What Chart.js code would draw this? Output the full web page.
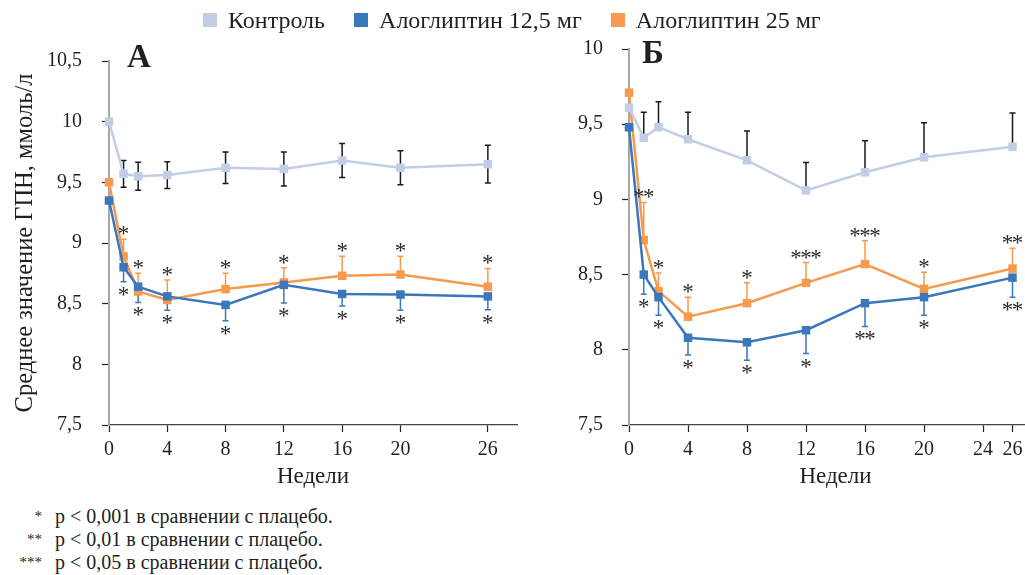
<!DOCTYPE html>
<html lang="ru">
<head>
<meta charset="utf-8">
<title>Алоглиптин: среднее значение ГПН</title>
<script src="https://cdn.jsdelivr.net/npm/chart.js@4.4.1/dist/chart.umd.min.js"></script>
<style>
  html, body { margin: 0; padding: 0; background: #fff; overflow: hidden; }
  body { width: 1025px; height: 575px; position: relative; font-family: "Liberation Serif", "Times New Roman", serif; color: #231f20; }
  .panel { position: absolute; top: 0; }
  #legend { position: absolute; top: 7px; left: 203px; height: 26px; display: flex; align-items: center; font-size: 24px; z-index: 2; white-space: nowrap; }
  #legend .sw { display: inline-block; width: 14px; height: 14px; margin-right: 11px; }
  #legend .item { display: flex; align-items: center; margin-right: 29px; }
  .letter { position: absolute; font-weight: bold; font-size: 33px; z-index: 2; line-height: 1; }
  #notes { position: absolute; left: 0; top: 505px; font-size: 20px; line-height: 23px; }
  #notes .row { display: flex; }
  #notes .mk { width: 42px; text-align: right; padding-right: 13px; font-size: 15px; }
</style>
</head>
<body>
<div id="legend"></div>
<div class="letter" style="left:127px; top:40px;">А</div>
<div class="letter" style="left:642px; top:36px;">Б</div>
<canvas id="chartA" class="panel" style="left:0px" width="525" height="500"></canvas>
<canvas id="chartB" class="panel" style="left:530px" width="520" height="500"></canvas>
<div id="notes"></div>

<script>
// ---- series names and colours ----
const seriesNames = ['Контроль', 'Алоглиптин 12,5 мг', 'Алоглиптин 25 мг'];
const seriesColors = ['#c3cde6', '#3a77bb', '#f79a4d'];

// ---- panel A: weeks, means (mmol/l) and SE ----
const weeksA = [0, 1, 2, 4, 8, 12, 16, 20, 26];
const tickWeeksA = [0, 4, 8, 12, 16, 20, 26];
const controlA = [10.0, 9.57, 9.55, 9.56, 9.62, 9.61, 9.68, 9.62, 9.65];
const controlErrA = [null, 0.11, 0.115, 0.11, 0.13, 0.14, 0.14, 0.14, 0.155];
const alo125A = [9.35, 8.80, 8.64, 8.56, 8.49, 8.655, 8.58, 8.575, 8.56];
const alo125ErrA = [null, 0.12, 0.13, 0.115, 0.13, 0.15, 0.10, 0.13, 0.11];
const alo25A = [9.50, 8.89, 8.60, 8.53, 8.62, 8.675, 8.73, 8.74, 8.64];
const alo25ErrA = [null, 0.14, 0.15, 0.165, 0.13, 0.12, 0.16, 0.15, 0.15];
const sig25A = ['', '*', '*', '*', '*', '*', '*', '*', '*'];
const sig125A = ['', '*', '*', '*', '*', '*', '*', '*', '*'];

// ---- panel Б ----
const weeksB = [0, 1, 2, 4, 8, 12, 16, 20, 26];
const tickWeeksB = [0, 4, 8, 12, 16, 20, 24, 26];
const controlB = [9.61, 9.41, 9.48, 9.40, 9.26, 9.06, 9.18, 9.28, 9.35];
const controlErrB = [null, 0.17, 0.17, 0.18, 0.195, 0.185, 0.21, 0.23, 0.225];
const alo125B = [9.48, 8.50, 8.35, 8.08, 8.05, 8.13, 8.31, 8.35, 8.48];
const alo125ErrB = [null, 0.13, 0.12, 0.115, 0.12, 0.155, 0.155, 0.12, 0.13];
const alo25B = [9.71, 8.73, 8.39, 8.22, 8.31, 8.445, 8.57, 8.405, 8.54];
const alo25ErrB = [null, 0.25, 0.12, 0.13, 0.135, 0.135, 0.155, 0.11, 0.135];
const sig25B = ['', '**', '*', '*', '*', '***', '***', '*', '**'];
const sig125B = ['', '*', '*', '*', '*', '*', '**', '*', '**'];

// ---- footnotes ----
const noteMarks = ['*', '**', '***'];
const noteTexts = ['p < 0,001 в сравнении с плацебо.', 'p < 0,01 в сравнении с плацебо.', 'p < 0,05 в сравнении с плацебо.'];

const TEXT = '#231f20';
const SERIF = '"Liberation Serif", "Times New Roman", serif';

// legend
const legendEl = document.getElementById('legend');
seriesNames.forEach((name, i) => {
  const item = document.createElement('span');
  item.className = 'item';
  const sw = document.createElement('span');
  sw.className = 'sw';
  sw.style.background = seriesColors[i];
  item.appendChild(sw);
  item.appendChild(document.createTextNode(name));
  legendEl.appendChild(item);
});

// footnotes
const notesEl = document.getElementById('notes');
noteTexts.forEach((t, i) => {
  const row = document.createElement('div');
  row.className = 'row';
  const mk = document.createElement('span');
  mk.className = 'mk';
  mk.textContent = noteMarks[i];
  const tx = document.createElement('span');
  tx.textContent = t;
  row.appendChild(mk);
  row.appendChild(tx);
  notesEl.appendChild(row);
});

const toPoints = (xs, ys) => xs.map((x, i) => ({ x, y: ys[i] }));

// Vertical error bars (dir = 'both' | 'up' | 'down') and significance stars
const errorBarPlugin = {
  id: 'errorBars',
  beforeDatasetsDraw(chart, args, opts) {
    const { ctx } = chart;
    const xs = chart.scales.x, ys = chart.scales.y;
    (opts.bars || []).forEach(b => {
      ctx.save();
      ctx.strokeStyle = b.color;
      ctx.lineWidth = b.width || 1.5;
      b.values.forEach((v, j) => {
        const e = b.errors[j];
        if (e == null) return;
        const px = xs.getPixelForValue(b.weeks[j]);
        const ends = [];
        if (b.dir !== 'down') ends.push(v + e);
        if (b.dir !== 'up') ends.push(v - e);
        ends.forEach(end => {
          const p0 = ys.getPixelForValue(v);
          const p1 = ys.getPixelForValue(end);
          ctx.beginPath();
          ctx.moveTo(px, p0);
          ctx.lineTo(px, p1);
          ctx.moveTo(px - 3, p1);
          ctx.lineTo(px + 3, p1);
          ctx.stroke();
        });
      });
      ctx.restore();
    });
  },
  afterDatasetsDraw(chart, args, opts) {
    const { ctx } = chart;
    const xs = chart.scales.x, ys = chart.scales.y;
    ctx.save();
    ctx.fillStyle = '#2a2a2a';
    ctx.font = '23px ' + SERIF;
    ctx.textAlign = 'center';
    ctx.textBaseline = 'alphabetic';
    (opts.marks || []).forEach(m => {
      m.labels.forEach((lab, j) => {
        if (!lab) return;
        const e = m.errors[j] || 0;
        const end = m.dir === 'up' ? m.values[j] + e : m.values[j] - e;
        const cy = ys.getPixelForValue(end) + (m.dir === 'up' ? -9 : 9);
        const cx = xs.getPixelForValue(m.weeks[j]);
        const n = lab.length;
        for (let k = 0; k < n; k++) {
          const sx = cx + (k - (n - 1) / 2) * 10;
          ctx.fillText('*', sx, cy + 11);
        }
      });
    });
    ctx.restore();
  }
};

function makeChart(id, cfg) {
  const datasets = [
    { label: seriesNames[0], data: toPoints(cfg.weeks, cfg.control), color: seriesColors[0] },
    { label: seriesNames[1], data: toPoints(cfg.weeks, cfg.alo125), color: seriesColors[1] },
    { label: seriesNames[2], data: toPoints(cfg.weeks, cfg.alo25), color: seriesColors[2] }
  ].map(d => ({
    label: d.label,
    data: d.data,
    borderColor: d.color,
    backgroundColor: d.color,
    borderWidth: 2.5,
    tension: 0,
    pointStyle: 'rect',
    pointRadius: 6,
    pointHoverRadius: 6,
    pointBorderWidth: 0,
    clip: false
  }));

  return new Chart(document.getElementById(id), {
    type: 'line',
    data: { datasets },
    plugins: [errorBarPlugin],
    options: {
      responsive: false,
      animation: false,
      events: [],
      layout: { padding: cfg.padding },
      plugins: {
        legend: { display: false },
        tooltip: { enabled: false },
        errorBars: {
          bars: [
            { weeks: cfg.weeks, values: cfg.control, errors: cfg.controlErr, dir: cfg.controlDir, color: '#1a1a1a', width: 1.5 },
            { weeks: cfg.weeks, values: cfg.alo125, errors: cfg.alo125Err, dir: 'down', color: seriesColors[1], width: 1.5 },
            { weeks: cfg.weeks, values: cfg.alo25, errors: cfg.alo25Err, dir: 'up', color: seriesColors[2], width: 1.5 }
          ],
          marks: [
            { weeks: cfg.weeks, values: cfg.alo25, errors: cfg.alo25Err, labels: cfg.sig25, dir: 'up' },
            { weeks: cfg.weeks, values: cfg.alo125, errors: cfg.alo125Err, labels: cfg.sig125, dir: 'down' }
          ]
        }
      },
      scales: {
        x: {
          type: 'linear',
          min: 0,
          max: cfg.xMax,
          afterBuildTicks: s => { s.ticks = cfg.ticks.map(v => ({ value: v })); },
          afterFit: s => { s.height = 66; },
          grid: { drawOnChartArea: false, drawTicks: true, tickLength: 7, tickColor: '#222', tickWidth: 1.2 },
          border: { color: '#444', width: 1.3 },
          ticks: { color: TEXT, font: { family: SERIF, size: 20 }, padding: 6, autoSkip: false, maxRotation: 0 },
          title: { display: true, text: 'Недели', color: TEXT, font: { family: SERIF, size: 23 }, padding: { top: 0, bottom: 0 } }
        },
        y: {
          min: cfg.yMin,
          max: cfg.yMax,
          afterFit: s => { s.width = cfg.yWidth; },
          grid: { drawOnChartArea: false, drawTicks: true, tickLength: 7, tickColor: '#222', tickWidth: 1.2 },
          border: { color: '#a8a8a8', width: 2 },
          ticks: {
            stepSize: 0.5,
            color: TEXT,
            font: { family: SERIF, size: 20 },
            padding: cfg.yPad,
            callback: v => String(v).replace('.', ',')
          },
          title: cfg.yTitle
            ? { display: true, text: 'Среднее значение ГПН, ммоль/л', color: TEXT, font: { family: SERIF, size: 24.5 }, padding: { top: 11, bottom: 0 } }
            : { display: false }
        }
      }
    }
  });
}

makeChart('chartA', {
  weeks: weeksA, ticks: tickWeeksA,
  control: controlA, controlErr: controlErrA, controlDir: 'both',
  alo125: alo125A, alo125Err: alo125ErrA,
  alo25: alo25A, alo25Err: alo25ErrA,
  sig25: sig25A, sig125: sig125A,
  xMax: 28, yMin: 7.5, yMax: 10.5,
  yWidth: 109, yPad: 20, yTitle: true,
  padding: { top: 61, right: 8, bottom: 9, left: 0 }
});

makeChart('chartB', {
  weeks: weeksB, ticks: tickWeeksB,
  control: controlB, controlErr: controlErrB, controlDir: 'up',
  alo125: alo125B, alo125Err: alo125ErrB,
  alo25: alo25B, alo25Err: alo25ErrB,
  sig25: sig25B, sig125: sig125B,
  xMax: 28, yMin: 7.5, yMax: 10,
  yWidth: 99, yPad: 19, yTitle: false,
  padding: { top: 49, right: 8, bottom: 9, left: 0 }
});
</script>
</body>
</html>
